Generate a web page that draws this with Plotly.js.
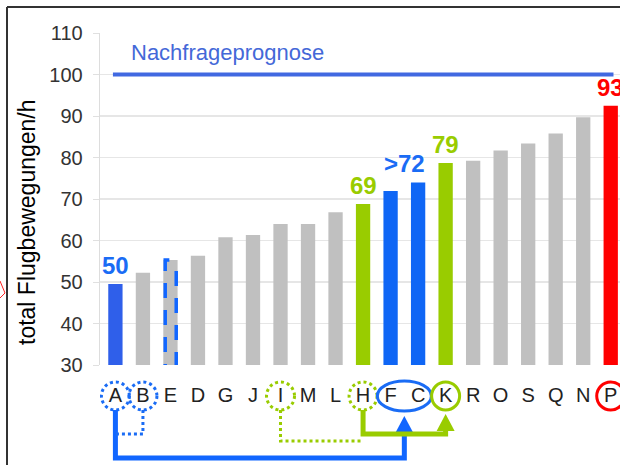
<!DOCTYPE html>
<html><head><meta charset="utf-8">
<script src="https://cdn.plot.ly/plotly-3.0.1.min.js"></script>
<style>html,body{margin:0;padding:0;overflow:hidden;background:#fff;width:620px;height:465px}</style>
</head><body><div id="chart" style="width:662px;height:465px"></div>
<script>
// ---- data ----
const categories = ['A','B','E','D','G','J','I','M','L','H','F','C','K','R','O','S','Q','N','P'];
const values     = [49.5,52.2,55.3,56.3,60.8,61.3,64.0,64.0,66.8,68.8,71.9,74.0,78.7,79.2,81.7,83.4,85.8,89.7,92.5];
const yTicks     = [30,40,50,60,70,80,90,100,110];
const forecast   = 100;
const forecastLabel = 'Nachfrageprognose';
const yTitle     = 'total Flugbewegungen/h';
const labelTexts = ['50','69','>72','79','93'];
const labelCats  = [['A'],['H'],['F','C'],['K'],['P']];
const labelGroup = ['blue','green','blue','green','red'];
const groupOf    = {A:'blueA', F:'blue', C:'blue', H:'green', K:'green', P:'red'};

// ---- styles ----
const palette = {grey:'#c0c0c0', blueA:'#2f5fea', blue:'#0f66f5', green:'#99cc00', red:'#ff0000'};
const textPalette = {blue:'#1a6cf5', green:'#99cc00', red:'#ff0000'};
const FONT = 'Liberation Sans, Arial, Helvetica, sans-serif';
const xRange = [-0.56, 19.5];
const L = 100, T = 33, PW = 552, PH = 332;
const unit = PW / (xRange[1] - xRange[0]);          // px per category
const pyPaper = py => (T + PH - py) / PH;            // pixel row -> paper y
const pxPaper = px => (px - L) / PW;                 // pixel col -> paper x
const idx = c => categories.indexOf(c);

const xs = categories.map((c, i) => i);
const colors = categories.map(c => palette[groupOf[c] || 'grey']);

const trace = {type:'bar', x: xs, y: values, marker:{color: colors, line:{width:0}}, hoverinfo:'skip'};

const shapes = [];
// forecast line
shapes.push({type:'line', xref:'x', yref:'y', x0:-0.09, x1:18.1, y0:forecast, y1:forecast,
  line:{color:'#4169e1', width:4}});
// dashed outline around E
const iE = idx('E');
shapes.push({type:'path', xref:'x', yref:'y',
  path:`M ${iE-0.19+0.15} ${values[iE]} L ${iE-0.19} ${values[iE]} L ${iE-0.19} 29.5`,
  line:{color:'#1166ff', width:3.5, dash:'15px,12px'}});
shapes.push({type:'path', xref:'x', yref:'y',
  path:`M ${iE+0.21} 29.5 L ${iE+0.21} ${values[iE]}`,
  line:{color:'#1166ff', width:3.5, dash:'15px,12px'}});

// circles around tick labels
const cy = 396;
function circ(c, r, color, dash, rx){
  const i = Array.isArray(c) ? (idx(c[0]) + idx(c[1])) / 2 : idx(c);
  const rxx = (rx || r) / unit;
  shapes.push({type:'circle', xref:'x', yref:'paper', x0:i-rxx, x1:i+rxx,
    y0:pyPaper(cy + r), y1:pyPaper(cy - r), line:{color, width:3, dash: dash || 'solid'}});
}
circ('A', 14, '#1a6cf5', 'dot');
circ('B', 14, '#1a6cf5', 'dot');
circ('I', 14, '#99cc00', 'dot');
circ('H', 14, '#99cc00', 'dot');
circ(['F','C'], 15, '#1a6cf5', 'solid', 27);
circ('K', 14, '#99cc00', 'solid');
circ('P', 14, '#ff0000', 'solid');

// connectors
function pth(pts, color, width, dash){
  const d = pts.map((p, k) => (k ? 'L ' : 'M ') + p[0] + ' ' + pyPaper(p[1])).join(' ');
  shapes.push({type:'path', xref:'x', yref:'paper', path:d, line:{color, width, dash: dash || 'solid'}});
}
function arrowHead(x, yBase, yTip, halfPx, color){
  const h = halfPx / unit;
  const d = `M ${x-h} ${pyPaper(yBase)} L ${x+h} ${pyPaper(yBase)} L ${x} ${pyPaper(yTip)} Z`;
  shapes.push({type:'path', xref:'x', yref:'paper', path:d, fillcolor:color, line:{width:0}});
}
const xFC = (idx('F') + idx('C')) / 2;
pth([[idx('A'),410],[idx('A'),458],[xFC,458],[xFC,430]], '#1166ff', 5);
arrowHead(xFC, 432, 416, 8.5, '#1166ff');
pth([[idx('B'),410],[idx('B'),434],[idx('A'),434]], '#1a6cf5', 3, 'dot');
pth([[idx('I'),410],[idx('I'),441],[idx('H'),441]], '#99cc00', 3, 'dot');
pth([[idx('H'),410],[idx('H'),434],[idx('K'),434],[idx('K'),429]], '#99cc00', 5);
arrowHead(idx('K'), 431, 414, 9, '#99cc00');

// frame lines and cut-off red mark at the far left
shapes.push({type:'line', xref:'paper', yref:'paper', x0:pxPaper(7), x1:pxPaper(640), y0:pyPaper(7), y1:pyPaper(7), line:{color:'#333', width:2}});
shapes.push({type:'line', xref:'paper', yref:'paper', x0:pxPaper(7), x1:pxPaper(7), y0:pyPaper(7), y1:pyPaper(470), line:{color:'#333', width:2}});
shapes.push({type:'path', xref:'paper', yref:'paper',
  path:`M ${pxPaper(0)} ${pyPaper(281)} L ${pxPaper(5)} ${pyPaper(293)} L ${pxPaper(0)} ${pyPaper(298)}`,
  line:{color:'#ff2222', width:1}});

const annotations = [];
annotations.push({xref:'x', yref:'paper', x:0.48, y:pyPaper(53), xanchor:'left', yanchor:'middle',
  text:forecastLabel, showarrow:false, font:{family:FONT, size:22, color:'#4468d8'}});
annotations.push({xref:'paper', yref:'paper', x:pxPaper(27), y:pyPaper(222), xanchor:'center', yanchor:'middle',
  text:yTitle, textangle:-90, showarrow:false, font:{family:FONT, size:23, color:'#000'}});
labelTexts.forEach((t, k) => {
  const ids = labelCats[k].map(idx);
  const x = ids.reduce((a, b) => a + b, 0) / ids.length;
  const y = Math.max(...ids.map(i => values[i]));
  annotations.push({xref:'x', yref:'y', x, y, xanchor:'center', yanchor:'bottom', yshift:3,
    text:'<b>' + t.replace('>', '&gt;') + '</b>', showarrow:false,
    font:{family:FONT, size:24, color:textPalette[labelGroup[k]]}});
});

const layout = {
  width:662, height:465, margin:{l:L, r:662-L-PW, t:T, b:465-T-PH},
  paper_bgcolor:'#fff', plot_bgcolor:'#fff', showlegend:false, bargap:0.48,
  font:{family:FONT},
  xaxis:{range:xRange, tickvals:xs, ticktext:categories, showgrid:false, zeroline:false, showline:false,
    ticks:'', tickfont:{family:FONT, size:20, color:'#222'}, ticklabelstandoff:16, fixedrange:true},
  yaxis:{range:[30,110], tickvals:yTicks, showgrid:true, gridcolor:'#e6e6e6', gridwidth:1.3,
    showline:true, linecolor:'#dddddd', linewidth:1.3, ticks:'outside', ticklen:6, tickcolor:'#e0e0e0',
    tickfont:{family:FONT, size:20, color:'#333'}, ticklabelstandoff:6, zeroline:false, fixedrange:true},
  shapes, annotations
};
Plotly.newPlot('chart', [trace], layout, {displayModeBar:false, staticPlot:true});
</script></body></html>
